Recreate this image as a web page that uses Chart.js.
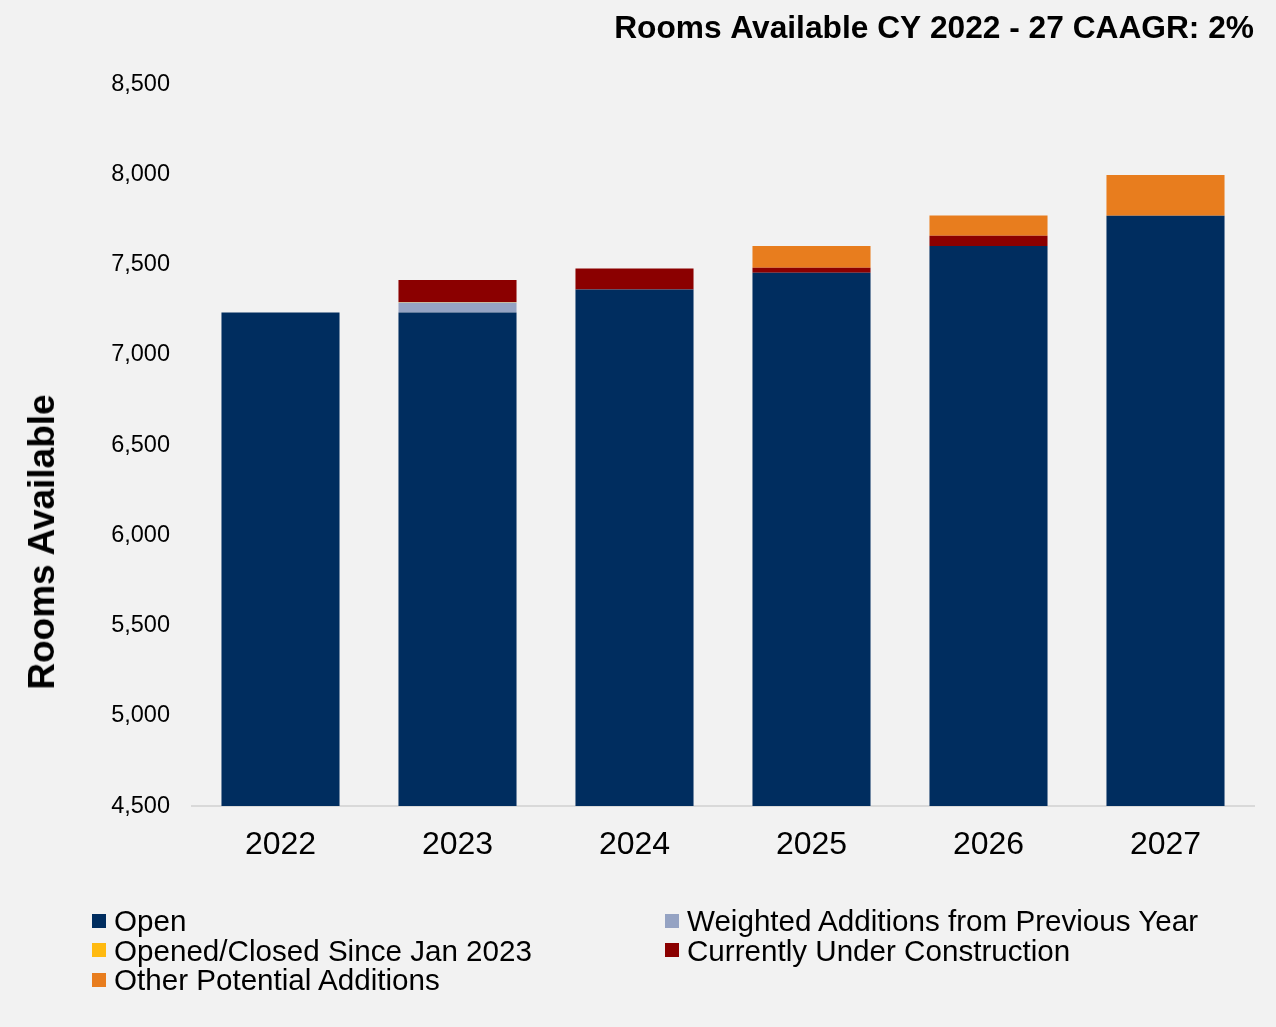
<!DOCTYPE html>
<html>
<head>
<meta charset="utf-8">
<script src="https://cdn.jsdelivr.net/npm/chart.js@4"></script>
<style>
    html, body { margin: 0; padding: 0; background: #f2f2f2; }
    #wrap { position: relative; width: 1276px; height: 1027px; }
    #legend {
        position: absolute; left: 92px; top: 906px;
        display: grid; grid-template-columns: 573px auto;
        font-family: "Liberation Sans", Arial, sans-serif; font-size: 29.6px; color: #000;
        line-height: 29.5px;
    }
    .item { display: flex; align-items: center; white-space: nowrap; height: 29.5px; }
    .box { width: 14px; height: 14px; margin-right: 8px; flex: none; }
    #yTitle {
        position: absolute; left: 42px; top: 542px;
        transform: translate(-50%, -50%) rotate(-90deg);
        font-family: "Liberation Sans", Arial, sans-serif; font-size: 37px; font-weight: bold;
        white-space: nowrap; color: #000;
    }
</style>
</head>
<body>
<div id="wrap">
    <canvas id="chart" width="1276" height="1027"></canvas>
    <div id="yTitle">Rooms Available</div>
    <div id="legend"></div>
</div>
<script>
/* ===== Data ===== */

var years = ['2022', '2023', '2024', '2025', '2026', '2027'];
var openRooms = [7235, 7235, 7362, 7454, 7603, 7770];
var weightedAdditions = [0, 55, 0, 0, 0, 0];
var openedClosed = [0, 3, 0, 0, 0, 0];
var underConstruction = [0, 121, 116, 28, 57, 0];
var otherAdditions = [0, 0, 0, 121, 112, 226];
var yTicks = [4500, 5000, 5500, 6000, 6500, 7000, 7500, 8000, 8500];

var colors = {
    open: '#002d5f',
    weighted: '#95a3c3',
    opened: '#ffba10',
    construction: '#8b0000',
    other: '#e87d1e',
};

var fontFamily = '"Liberation Sans", Arial, sans-serif';

function series(label, data, color) {
    return {
        label: label,
        data: data,
        backgroundColor: color,
        borderWidth: 0,
        barPercentage: 0.667,
        categoryPercentage: 1.0,
    };
}

var datasets = [
    series('Open', openRooms, colors.open),
    series('Weighted Additions from Previous Year', weightedAdditions, colors.weighted),
    series('Opened/Closed Since Jan 2023', openedClosed, colors.opened),
    series('Currently Under Construction', underConstruction, colors.construction),
    series('Other Potential Additions', otherAdditions, colors.other),
];

var chart = new Chart(document.getElementById('chart'), {
    type: 'bar',
    data: { labels: years, datasets: datasets },
    options: {
        responsive: false,
        animation: false,
        layout: { padding: { top: 0, left: 0, right: 22, bottom: 142.5 } },
        plugins: {
            legend: { display: false },
            tooltip: { enabled: false },
            title: {
                display: true,
                text: 'Rooms Available CY 2022 - 27 CAAGR: 2%',
                align: 'end',
                color: '#000',
                font: { family: fontFamily, size: 31.7, weight: 'bold' },
                padding: { top: 10, bottom: 36 },
            },
        },
        scales: {
            x: {
                stacked: true,
                grid: { display: false, drawTicks: false },
                border: { display: true, color: '#d9d9d9', width: 2 },
                ticks: { color: '#000', padding: 20, font: { family: fontFamily, size: 32 } },
            },
            y: {
                stacked: true,
                min: 4500,
                max: 8500,
                afterBuildTicks: function(scale) {
                    scale.ticks = yTicks.map(function(v) { return { value: v }; });
                },
                afterFit: function(scale) { scale.width = 192; },
                grid: { display: false, drawTicks: false },
                border: { display: false },
                ticks: {
                    color: '#000',
                    padding: 22,
                    font: { family: fontFamily, size: 23.5 },
                    callback: function(v) { return v.toLocaleString('en-US'); },
                },
            },
        },
    },
});

/* ===== Legend ===== */

var legend = document.getElementById('legend');
chart.data.datasets.forEach(function(ds) {
    var item = document.createElement('div');
    item.className = 'item';
    var box = document.createElement('span');
    box.className = 'box';
    box.style.background = ds.backgroundColor;
    var text = document.createElement('span');
    text.textContent = ds.label;
    item.appendChild(box);
    item.appendChild(text);
    legend.appendChild(item);
});
</script>
</body>
</html>
